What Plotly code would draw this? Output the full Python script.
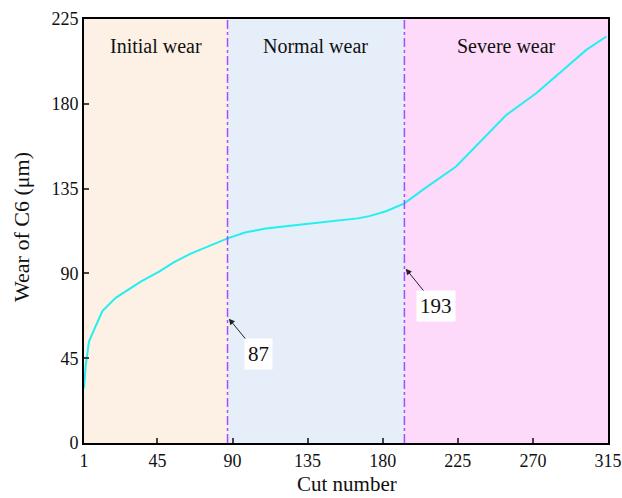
import plotly.graph_objects as go

# Tool wear of cutter C6 versus cut number
cut_number = [1, 2, 4, 8, 12, 20, 28, 35, 46, 55, 65, 71, 80, 87, 98, 110, 130, 150, 165, 172, 182, 193,
              205, 224, 240, 254, 272, 288, 302, 314]
wear_um = [29, 41, 54, 62, 70, 77, 81.5, 85.6, 91, 96, 100.5, 102.6, 106, 108.6, 111.8, 113.8, 115.8,
           117.6, 119.2, 120.4, 123, 127.2, 135, 146.7, 161, 174, 185.6, 198, 208.6, 215.7]

# Wear stage boundaries
stage_names = ["Initial wear", "Normal wear", "Severe wear"]
stage_bounds = [1, 87, 193, 315]
stage_colors = ["#FDF0E4", "#E6EEFA", "#FDDAFA"]
boundary_labels = ["87", "193"]
boundary_arrow_y = [66, 92.5]
boundary_text_pos = [(105.3, 47.2), (211.9, 72.7)]

x_ticks = [1, 45, 90, 135, 180, 225, 270, 315]
y_ticks = [0, 45, 90, 135, 180, 225]

font_family = "Liberation Serif, Times New Roman, serif"

fig = go.Figure()

shapes = []
for i, color in enumerate(stage_colors):
    shapes.append(dict(type="rect", xref="x", yref="y", x0=stage_bounds[i], x1=stage_bounds[i + 1],
                       y0=0, y1=225, fillcolor=color, line=dict(width=0), layer="below"))
for b in stage_bounds[1:3]:
    shapes.append(dict(type="line", xref="x", yref="y", x0=b, x1=b, y0=0, y1=225,
                       line=dict(color="#A64DFF", width=1.5, dash="dashdot"), layer="above"))

fig.add_trace(go.Scatter(x=cut_number, y=wear_um, mode="lines",
                         line=dict(color="#22F0F0", width=2), showlegend=False, hoverinfo="skip"))

annotations = []
for i, name in enumerate(stage_names):
    annotations.append(dict(x=(stage_bounds[i] + stage_bounds[i + 1]) / 2, y=210.5, xref="x", yref="y",
                            text=name, showarrow=False, font=dict(family=font_family, size=20, color="#111")))
for lab, ya, (tx, ty), b in zip(boundary_labels, boundary_arrow_y, boundary_text_pos, stage_bounds[1:3]):
    annotations.append(dict(x=b + 0.8, y=ya, xref="x", yref="y", text=lab, showarrow=True,
                            axref="x", ayref="y", ax=tx, ay=ty, arrowhead=2, arrowsize=1.2,
                            arrowwidth=1, arrowcolor="#222", bgcolor="white",
                            font=dict(family=font_family, size=21, color="#111"), borderpad=3))

# Axis titles
annotations.append(dict(x=0.502, y=-0.097, xref="paper", yref="paper", xanchor="center", yanchor="middle",
                        text="Cut number", showarrow=False,
                        font=dict(family=font_family, size=21, color="#111")))
annotations.append(dict(x=-0.118, y=0.51, xref="paper", yref="paper", xanchor="center", yanchor="middle",
                        text="Wear of C6 (μm)", textangle=-90, showarrow=False,
                        font=dict(family=font_family, size=22, color="#111")))

fig.update_layout(
    width=622, height=498,
    margin=dict(l=84, r=14, t=19, b=55),
    paper_bgcolor="white", plot_bgcolor="white",
    shapes=shapes, annotations=annotations,
    font=dict(family=font_family, size=18, color="#111"),
    xaxis=dict(range=[1, 315], tickvals=x_ticks, ticks="inside", ticklen=5, tickwidth=1.5,
               showline=True, linecolor="black", linewidth=2, mirror=True, showgrid=False,
               zeroline=False, automargin=False, tickfont=dict(size=18)),
    yaxis=dict(range=[0, 225], tickvals=y_ticks, ticks="inside", ticklen=5, tickwidth=1.5,
               showline=True, linecolor="black", linewidth=2, mirror=True, showgrid=False,
               zeroline=False, automargin=False, tickfont=dict(size=18)),
)

fig.write_html("out.html")
